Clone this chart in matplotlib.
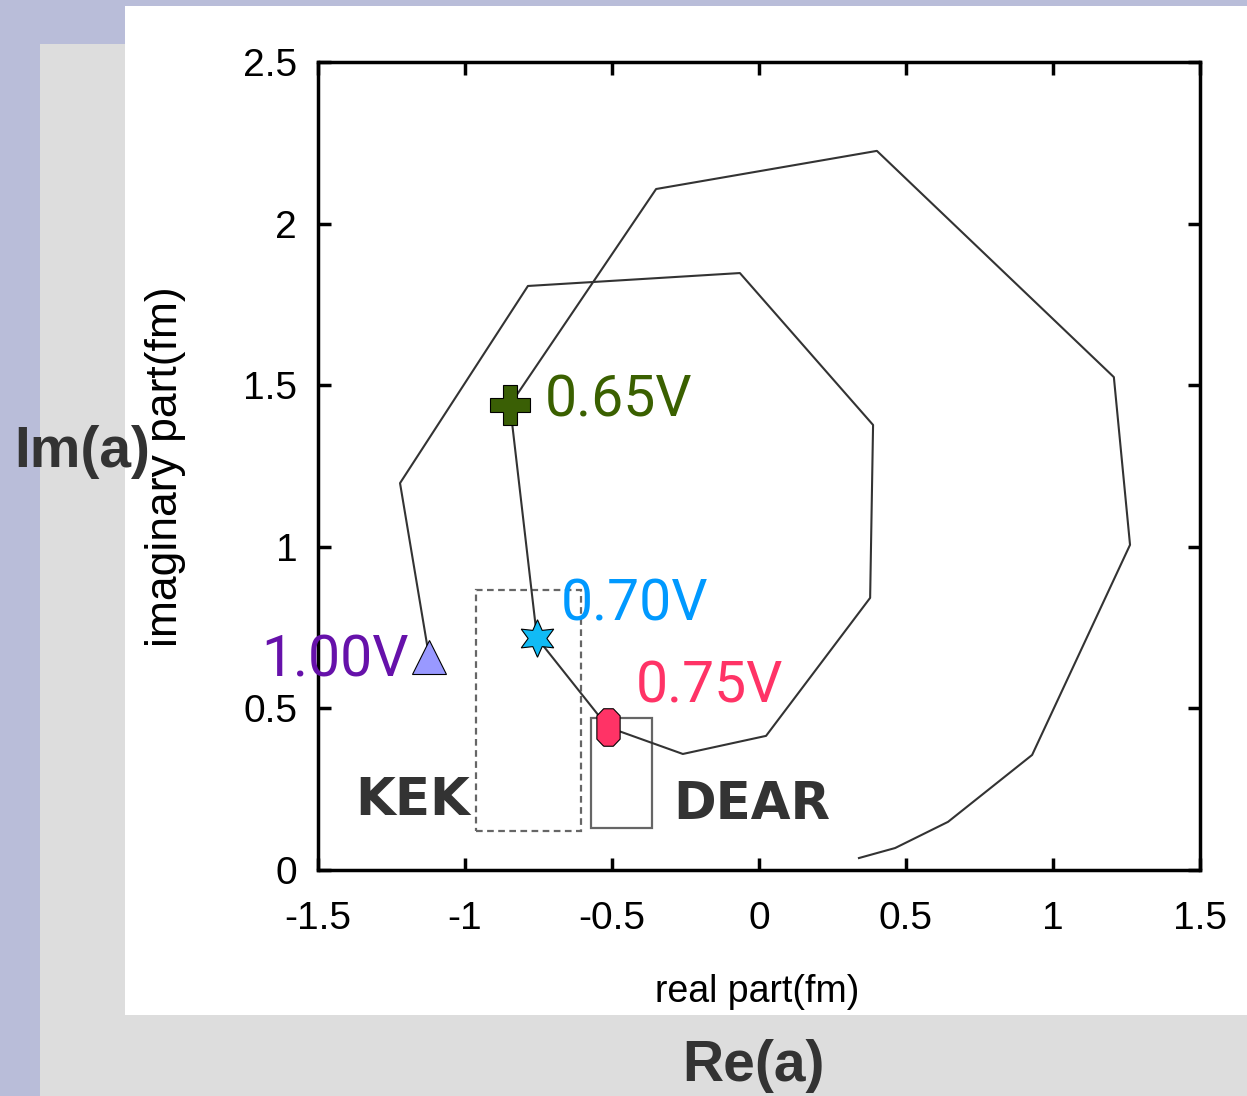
import matplotlib
matplotlib.use("Agg")
import matplotlib.pyplot as plt
from matplotlib.patches import Rectangle
from matplotlib.path import Path
import numpy as np

# ---- data ----
curve_re = [-1.122, -1.221, -0.786, -0.065, 0.388, 0.378, 0.024, -0.259, -0.514,
            -0.755, -0.847, -0.350, 0.401, 1.207, 1.262, 0.929, 0.643, 0.463, 0.340]
curve_im = [0.659, 1.197, 1.807, 1.847, 1.377, 0.842, 0.415, 0.359, 0.442,
            0.718, 1.439, 2.107, 2.225, 1.525, 1.006, 0.356, 0.149, 0.068, 0.037]

pt_labels = ["0.65V", "0.70V", "0.75V", "1.00V"]
pt_re = [-0.847, -0.755, -0.514, -1.122]
pt_im = [1.439, 0.718, 0.442, 0.659]

kek_re = [-0.963, -0.605]
kek_im = [0.121, 0.866]
dear_re = [-0.571, -0.364]
dear_im = [0.130, 0.470]

xticks = [-1.5, -1, -0.5, 0, 0.5, 1, 1.5]
yticks = [0, 0.5, 1, 1.5, 2, 2.5]
xticklabels = ["-1.5", "-1", "-0.5", "0", "0.5", "1", "1.5"]
yticklabels = ["0", "0.5", "1", "1.5", "2", "2.5"]

W, H = 1247, 1096
fig = plt.figure(figsize=(W / 100, H / 100), dpi=100)
fig.patch.set_facecolor("#b9bdd9")
fig.patches.append(Rectangle((40 / W, 0), 1 - 40 / W, (H - 44) / H,
                             transform=fig.transFigure, facecolor="#dddddd",
                             edgecolor="none", zorder=-10))
fig.patches.append(Rectangle((125 / W, 81 / H), 1 - 125 / W, (1015 - 6) / H,
                             transform=fig.transFigure, facecolor="white",
                             edgecolor="none", zorder=-9))

ax = fig.add_axes([318 / W, 1 - 870 / H, (1200 - 318) / W, (870 - 62) / H])
ax.set_facecolor("white")
ax.set_xlim(-1.5, 1.5)
ax.set_ylim(0, 2.5)
ax.set_xticks(xticks)
ax.set_yticks(yticks)
ax.set_xticklabels(xticklabels)
ax.set_yticklabels(yticklabels)
ax.tick_params(direction="in", length=9, width=2.5, top=True, right=True,
               labelsize=28)
ax.tick_params(axis="x", pad=22)
ax.tick_params(axis="y", pad=15)
for lab in ax.get_xticklabels() + ax.get_yticklabels():
    lab.set_family("Liberation Sans")
for s in ax.spines.values():
    s.set_linewidth(2.5)

ax.set_xlabel("real part(fm)", fontsize=27, family="Liberation Sans")
ax.set_ylabel("imaginary part(fm)", fontsize=32, family="Liberation Sans")
ax.xaxis.set_label_coords((757 - 318) / 882, (870 - 992) / 808)
ax.yaxis.set_label_coords((165 - 318) / 882, (870 - 467) / 808)
ax.xaxis.label.set_va("center")
ax.yaxis.label.set_va("center")

ax.plot(curve_re, curve_im, color="#333333", lw=1.5, zorder=3)

# boxes
ax.add_patch(Rectangle((kek_re[0], kek_im[0]), kek_re[1] - kek_re[0], kek_im[1] - kek_im[0],
                       fill=False, edgecolor="#666666", lw=1.6, ls=(0, (3, 2)), zorder=2))
ax.add_patch(Rectangle((dear_re[0], dear_im[0]), dear_re[1] - dear_re[0], dear_im[1] - dear_im[0],
                       fill=False, edgecolor="#666666", lw=1.6, zorder=2))

# markers
a = 0.414
oct_verts = [(-a, -1), (a, -1), (1, -a * 1.5), (1, a * 1.5), (a, 1), (-a, 1),
             (-1, a * 1.5), (-1, -a * 1.5), (-a, -1)]
oct_verts = [(vx * 0.62, vy) for vx, vy in oct_verts]
oct_marker = Path(oct_verts)

ax.plot(pt_re[0], pt_im[0], marker="P", ms=29, mfc="#3a5f05", mec="black", mew=0.8,
        ls="none", zorder=5)
ax.plot(pt_re[1], pt_im[1], marker=(6, 1, 0), ms=27, mfc="#11bbf5", mec="black", mew=0.8,
        ls="none", zorder=5)
ax.plot(pt_re[2], pt_im[2], marker=oct_marker, ms=27, mfc="#ff3366", mec="black", mew=0.8,
        ls="none", zorder=5)
ax.plot(pt_re[3], pt_im[3], marker="^", ms=24, mfc="#9999ff", mec="black", mew=0.8,
        ls="none", zorder=5)

lab_font = ["Roboto", "DejaVu Sans"]
fs = 41
ax.annotate(pt_labels[0], (pt_re[0], pt_im[0]), xytext=(25, 3), textcoords="offset points",
            color="#3a6000", fontsize=fs, family=lab_font, va="center", ha="left", zorder=6)
ax.annotate(pt_labels[1], (pt_re[1], pt_im[1]), xytext=(17, 24), textcoords="offset points",
            color="#0099ff", fontsize=fs, family=lab_font, va="center", ha="left", zorder=6)
ax.annotate(pt_labels[2], (pt_re[2], pt_im[2]), xytext=(20, 29), textcoords="offset points",
            color="#ff3366", fontsize=fs, family=lab_font, va="center", ha="left", zorder=6)
ax.annotate(pt_labels[3], (pt_re[3], pt_im[3]), xytext=(-15, -3), textcoords="offset points",
            color="#6611aa", fontsize=fs, family=lab_font, va="center", ha="right", zorder=6)

ax.annotate("KEK", (kek_re[0], 0.215), xytext=(-4, 0), textcoords="offset points",
            ha="right", va="center", fontsize=37, fontweight="bold", color="#333333",
            family="DejaVu Sans")
ax.annotate("DEAR", (dear_re[1], 0.2), xytext=(15, 0), textcoords="offset points",
            ha="left", va="center", fontsize=37, fontweight="bold", color="#333333",
            family="DejaVu Sans")

fig.text(82 / W, 1 - 452 / H, "Im(a)", fontsize=41, fontweight="bold", color="#333333",
         ha="center", va="center", family="Liberation Sans")
fig.text(754 / W, 1 - 1066 / H, "Re(a)", fontsize=41, fontweight="bold", color="#333333",
         ha="center", va="center", family="Liberation Sans")

fig.savefig("out.png", dpi=100, facecolor=fig.get_facecolor())
